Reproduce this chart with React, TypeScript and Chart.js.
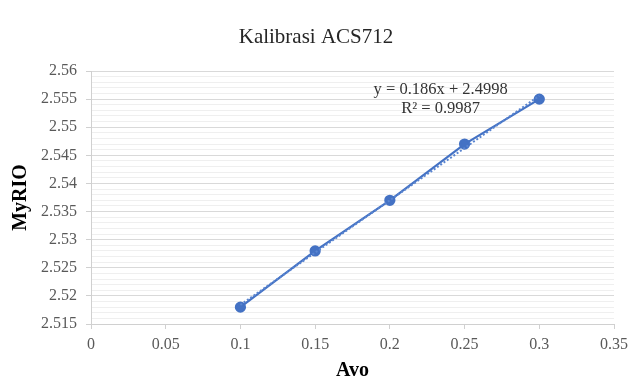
import React, { useEffect, useRef } from "react";
import { Chart, registerables } from "chart.js";

Chart.register(...registerables);

// ---- data ----
const avo = [0.1, 0.15, 0.2, 0.25, 0.3];
const myrio = [2.518, 2.528, 2.537, 2.547, 2.555];
const trendX = [0.1, 0.3];
const trendSlope = 0.186;
const trendIntercept = 2.4998;
const equationLines = ["y = 0.186x + 2.4998", "R\u00B2 = 0.9987"];
const equationAnchor = [0.234, 2.5559];
const chartTitle = "Kalibrasi ACS712";
const xTitle = "Avo";
const yTitle = "MyRIO";
const xRange = [0, 0.35];
const xStep = 0.05;
const yRange = [2.515, 2.56];
const yMajorStep = 0.005;
const yMinorStep = 0.001;

const SERIF = "'Liberation Serif', 'Times New Roman', serif";
const BLUE = "#4472C4";

const isMajorY = (v: number) =>
  Math.round(v / yMinorStep) % Math.round(yMajorStep / yMinorStep) === 0;

const textPlugin = {
  id: "texts",
  afterDraw(chart: any) {
    const ctx = chart.ctx;
    ctx.save();
    ctx.textAlign = "center";
    ctx.textBaseline = "alphabetic";
    ctx.fillStyle = "#262626";
    ctx.font = `21px ${SERIF}`;
    ctx.fillText(chartTitle, 316, 43);
    const xs = chart.scales.x;
    const ys = chart.scales.y;
    const px = xs.getPixelForValue(equationAnchor[0]);
    const py = ys.getPixelForValue(equationAnchor[1]);
    ctx.fillStyle = "#333333";
    ctx.font = `16.5px ${SERIF}`;
    equationLines.forEach((line, i) => ctx.fillText(line, px, py + i * 19));
    ctx.restore();
  },
};

export default function App() {
  const ref = useRef<HTMLCanvasElement>(null);
  useEffect(() => {
    document.body.style.margin = "0";
    const canvas = ref.current!;
    const chart = new Chart(canvas, {
      type: "scatter",
      data: {
        datasets: [
          {
            label: "MyRIO",
            data: avo.map((x, i) => ({ x, y: myrio[i] })),
            showLine: true,
            borderColor: BLUE,
            backgroundColor: BLUE,
            borderWidth: 2.25,
            pointRadius: 4.5,
            pointBackgroundColor: BLUE,
            pointBorderColor: BLUE,
            order: 2,
          },
          {
            label: "Trend",
            data: trendX.map((x) => ({ x, y: trendSlope * x + trendIntercept })),
            showLine: true,
            borderColor: "#5a85d0",
            borderWidth: 2,
            borderDash: [2, 2],
            pointRadius: 0,
            order: 1,
          },
        ],
      },
      options: {
        animation: false,
        responsive: false,
        layout: { padding: { top: 71, right: 24, left: 0, bottom: 0 } },
        plugins: {
          legend: { display: false },
          title: { display: false },
          tooltip: { enabled: false },
        },
        scales: {
          x: {
            type: "linear",
            min: xRange[0],
            max: xRange[1],
            afterFit: (s: any) => {
              s.height = 59;
            },
            ticks: {
              stepSize: xStep,
              color: "#595959",
              font: { family: SERIF, size: 16 },
              padding: 6,
              maxRotation: 0,
              autoSkip: false,
              callback: (v: any) => String(parseFloat(Number(v).toFixed(2))),
            },
            grid: {
              drawOnChartArea: false,
              drawTicks: true,
              tickLength: 5,
              tickColor: "#d0d0d0",
            },
            border: { display: true, color: "#d0d0d0", width: 1 },
            title: {
              display: true,
              text: xTitle,
              color: "#000000",
              font: { family: SERIF, size: 20, weight: "bold" },
              padding: { top: 0, bottom: 0 },
            },
          },
          y: {
            type: "linear",
            min: yRange[0],
            max: yRange[1],
            afterFit: (s: any) => {
              s.width = 91;
            },
            ticks: {
              stepSize: yMinorStep,
              autoSkip: false,
              color: "#595959",
              font: { family: SERIF, size: 16 },
              padding: 9,
              callback: (v: any) =>
                isMajorY(Number(v)) ? String(parseFloat(Number(v).toFixed(3))) : "",
            },
            grid: {
              drawTicks: true,
              tickLength: 5,
              color: (c: any) =>
                c.tick && isMajorY(c.tick.value) ? "#d9d9d9" : "#efefef",
              tickColor: (c: any) =>
                c.tick && isMajorY(c.tick.value) ? "#d0d0d0" : "rgba(0,0,0,0)",
              lineWidth: 1,
            },
            border: { display: true, color: "#d0d0d0", width: 1 },
            title: {
              display: true,
              text: yTitle,
              color: "#000000",
              font: { family: SERIF, size: 20, weight: "bold" },
              padding: { top: 9, bottom: 0 },
            },
          },
        },
      },
      plugins: [textPlugin],
    } as any);
    return () => chart.destroy();
  }, []);
  return (
    <div style={{ width: 638, height: 383, background: "#ffffff" }}>
      <canvas ref={ref} width={638} height={383} style={{ display: "block" }} />
    </div>
  );
}
